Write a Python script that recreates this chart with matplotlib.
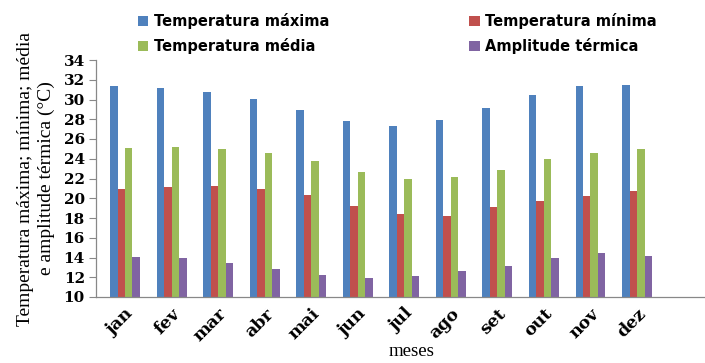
import matplotlib
matplotlib.use("Agg")
import matplotlib.pyplot as plt
import numpy as np

meses = ["jan", "fev", "mar", "abr", "mai", "jun", "jul", "ago", "set", "out", "nov", "dez"]
temp_max = [31.4, 31.2, 30.8, 30.1, 28.9, 27.8, 27.3, 27.9, 29.1, 30.5, 31.4, 31.5]
temp_min = [20.9, 21.1, 21.2, 20.9, 20.3, 19.2, 18.4, 18.2, 19.1, 19.7, 20.2, 20.7]
temp_med = [25.1, 25.2, 25.0, 24.6, 23.8, 22.7, 22.0, 22.2, 22.9, 24.0, 24.6, 25.0]
amplitude = [14.1, 13.9, 13.4, 12.8, 12.2, 11.9, 12.1, 12.6, 13.1, 14.0, 14.5, 14.2]
y_ticks = [10, 12, 14, 16, 18, 20, 22, 24, 26, 28, 30, 32, 34]

series = [
    ("Temperatura máxima", temp_max, "#4F81BD"),
    ("Temperatura mínima", temp_min, "#C0504D"),
    ("Temperatura média", temp_med, "#9BBB59"),
    ("Amplitude térmica", amplitude, "#8064A2"),
]

fig = plt.figure(figsize=(7.05, 3.63), dpi=100)
ax = fig.add_axes([96 / 705, 1 - 297 / 363, 1 - 96 / 705, (297 - 60) / 363])

x = np.arange(len(meses))
w = 0.161
handles = {}
for i, (name, vals, color) in enumerate(series):
    b = ax.bar(x + (i - 1.5) * w, np.array(vals) - 10, bottom=10, width=w,
               color=color, label=name, linewidth=0)
    handles[name] = b

ax.set_ylim(10, 34)
ax.set_xlim(-0.623, 12.46)
ax.set_yticks(y_ticks)
ax.set_xticks(x)

serif = ["Liberation Serif", "DejaVu Serif"]
wide_serif = ["DejaVu Serif"]
ax.set_yticklabels([str(t) for t in y_ticks], fontfamily=wide_serif,
                   fontweight="bold", fontsize=11)
ax.set_xticklabels(meses, fontfamily=wide_serif, fontweight="bold", fontsize=12.5,
                   rotation=45, ha="right", rotation_mode="anchor")
ax.tick_params(axis="x", length=0, pad=6)
ax.tick_params(axis="y", length=5, width=0.8, color="#888888", pad=3)

for s in ["top", "right"]:
    ax.spines[s].set_visible(False)
for s in ["left", "bottom"]:
    ax.spines[s].set_color("#888888")
    ax.spines[s].set_linewidth(0.9)

fig.text(412 / 705, 1 - 352 / 363, "meses", fontfamily=serif, fontsize=13.5,
         ha="center", va="center")
ax.set_ylabel("Temperatura máxima; mínima; média\ne amplitude térmica (°C)",
              fontfamily=serif, fontsize=14, linespacing=1.3, labelpad=6)

order = ["Temperatura máxima", "Temperatura média", "Temperatura mínima", "Amplitude térmica"]
fig.legend([handles[n] for n in order], order, ncol=2, loc="upper left",
           bbox_to_anchor=(138 / 705, 1 - 13 / 363), frameon=False,
           prop={"family": "DejaVu Sans", "weight": "bold", "size": 10.5},
           handlelength=0.7, handleheight=0.7, handletextpad=0.4,
           columnspacing=9.6, labelspacing=0.6, borderpad=0, borderaxespad=0)

fig.savefig("out.png", dpi=100)
